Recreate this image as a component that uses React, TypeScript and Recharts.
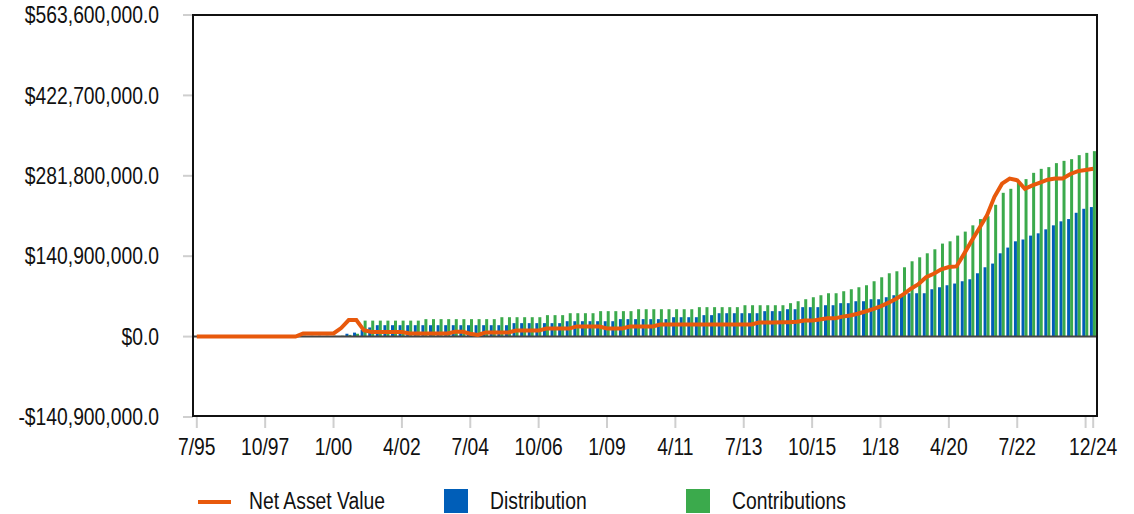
import React from 'react';
import {
  ComposedChart,
  Bar,
  Line,
  XAxis,
  YAxis,
  ReferenceLine,
} from 'recharts';

document.body.style.margin = '0';

// quarterly labels 7/95 ... 10/24, plus the final 12/24 point
const quarterMonths = [7, 10, 1, 4];
const categories: string[] = [];
for (let i = 0; i < 118; i++) {
  const yr = (95 + Math.floor((i + 2) / 4)) % 100;
  categories.push(`${quarterMonths[i % 4]}/${String(yr).padStart(2, '0')}`);
}
categories.push('12/24');

// values in $ millions
const netAssetValue = [
  0, 0, 0, 0, 0, 0, 0, 0, 0, 0, 0, 0, 0, 0,
  5.5, 5.5, 5.5, 5.5, 5.5, 15, 29, 29, 11,
  8, 8, 8, 8, 8, 5.5, 5.5, 5.5, 5.5, 5.5, 5.5,
  8.5, 8.5, 5, 3, 7, 7, 7, 7,
  10.5, 10.5, 10.5, 10.5, 14, 14, 14, 14,
  17.8, 17.8, 17.8, 17.8, 14.3, 14.3, 14.3,
  17.8, 17.8, 17.8, 17.8,
  21.3, 21.3, 21.3, 21.3, 21.3, 21.3, 21.3, 21.3, 21.3, 21.3, 21.3, 21.3, 21.3,
  24.8, 24.8, 24.8, 25, 25, 26,
  28, 28, 30, 32, 32, 35, 37, 40, 44, 48, 53, 59, 66, 74, 84, 92, 104, 110, 118, 122, 123,
  145, 168, 190, 212, 245, 268, 277, 274, 259, 265, 270, 275, 277, 277, 285, 290, 292, 294,
];

const distribution = [
  0, 0, 0, 0, 0, 0, 0, 0, 0, 0, 0, 0, 0, 0,
  1, 1, 1, 1, 1, 1, 5, 7, 12, 16,
  20, 20, 20, 20, 20, 20, 20, 20, 20, 20, 20, 20, 20, 20, 20, 20, 20, 20,
  23.6, 23.6, 23.6, 23.6, 23.6, 23.6, 23.6,
  27, 27, 27, 27, 27, 27, 27,
  30.6, 30.6, 30.6, 30.6, 30.6, 30.6, 30.6,
  34, 34, 34, 34, 37.6, 37.6,
  41, 41, 41, 41, 41, 41, 44.6, 44.6, 44.6, 48, 48,
  51.6, 51.6, 51.6, 55, 55, 58.6, 58.6, 62, 62, 65.5, 65.5, 69, 72.5, 72.5, 76, 76, 76,
  83, 86.5, 90, 93, 97, 100.5, 111, 121.5, 128, 146, 156, 167, 170, 177, 181, 188, 195, 202, 206, 217, 224, 227,
];

const contributions = [
  0, 0, 0, 0, 0, 0, 0, 0, 0, 0, 0, 0, 0, 0,
  1.5, 1.5, 1.5, 1.5, 1.5, 1.5, 3, 5,
  28, 28, 28, 28, 28, 28, 28, 28,
  30.6, 30.6, 30.6, 30.6, 30.6, 30.6, 30.6, 30.6, 30.6, 30.6,
  34, 34, 34, 34, 34, 34, 37.6, 37.6, 37.6,
  41, 41, 41, 41, 44.6, 44.6, 44.6, 44.6, 44.6,
  48, 48, 48, 48, 48, 48, 48, 48,
  51.6, 51.6, 51.6, 51.6, 51.6, 51.6, 55, 55, 55, 55, 55, 55,
  58.6, 62, 65.5, 69, 72.5, 76, 76, 79.5, 83, 86.5, 90, 97, 104, 111, 114.5, 121.5, 132, 139, 146, 153,
  163, 167, 177, 184, 195, 206, 211, 231, 252, 259, 270, 276, 287, 294, 297, 304, 308, 311, 318, 322, 325,
];

const xTicks = ['7/95', '10/97', '1/00', '4/02', '7/04', '10/06', '1/09', '4/11', '7/13', '10/15', '1/18', '4/20', '7/22', '10/24', '12/24'];
const hiddenTickLabels = ['10/24'];
const yTicks = [-140900000, 0, 140900000, 281800000, 422700000, 563600000];

const data = categories.map((name, i) => ({
  name,
  nav: netAssetValue[i] * 1e6,
  distribution: distribution[i] * 1e6,
  contributions: contributions[i] * 1e6,
}));

// no narrow font installed, so squeeze Liberation Sans horizontally
const FONT = "'Liberation Sans', Arial, sans-serif";
const FONT_SIZE = 23;
const SQUEEZE = 0.84;
const ORANGE = '#E8590C';
const BLUE = '#005EB8';
const GREEN = '#3BAA4C';

const money = (v: number) =>
  (v < 0 ? '-' : '') +
  '$' +
  Math.abs(v).toLocaleString('en-US', { minimumFractionDigits: 1, maximumFractionDigits: 1 });

function YTick({ x, y, payload }: any) {
  return (
    <g transform={`translate(${x},${y}) scale(${SQUEEZE},1)`}>
      <text x={0} y={0} dy="0.355em" textAnchor="end" fill="#111" fontSize={FONT_SIZE} fontFamily={FONT}>
        {money(payload.value)}
      </text>
    </g>
  );
}

function XTick({ x, y, payload }: any) {
  if (hiddenTickLabels.includes(payload.value)) return null;
  return (
    <g transform={`translate(${x},${y}) scale(${SQUEEZE},1)`}>
      <text x={0} y={0} dy="0.71em" textAnchor="middle" fill="#111" fontSize={FONT_SIZE} fontFamily={FONT}>
        {payload.value}
      </text>
    </g>
  );
}

const legendText: React.CSSProperties = {
  fontFamily: FONT,
  fontSize: FONT_SIZE,
  color: '#111',
  position: 'absolute',
  top: 488,
  lineHeight: '26px',
  whiteSpace: 'nowrap',
  transform: `scaleX(${SQUEEZE})`,
  transformOrigin: 'left center',
};

export default function App() {
  return (
    <div style={{ position: 'relative', width: 1134, height: 514, background: '#fff' }}>
      <ComposedChart
        width={1134}
        height={514}
        data={data}
        margin={{ top: 15, right: 37, left: 0, bottom: 47 }}
        barCategoryGap={0.5}
        barGap={0}
      >
        <XAxis
          dataKey="name"
          ticks={xTicks}
          interval={0}
          axisLine={false}
          tickLine={{ stroke: '#cfcfcf', strokeWidth: 2 }}
          tickSize={11}
          tickMargin={11}
          height={50}
          tick={<XTick />}
        />
        <YAxis
          domain={[-140900000, 563600000]}
          ticks={yTicks}
          width={193}
          axisLine={false}
          tickLine={{ stroke: '#cfcfcf', strokeWidth: 2 }}
          tickSize={10}
          tickMargin={24}
          tick={<YTick />}
        />
        <ReferenceLine y={0} stroke="#444" strokeWidth={2} />
        <Bar dataKey="distribution" fill={BLUE} isAnimationActive={false} />
        <Bar dataKey="contributions" fill={GREEN} isAnimationActive={false} />
        <Line
          dataKey="nav"
          type="linear"
          stroke={ORANGE}
          strokeWidth={4}
          dot={false}
          activeDot={false}
          isAnimationActive={false}
        />
      </ComposedChart>
      {/* plot frame */}
      <div
        style={{
          position: 'absolute',
          left: 192,
          top: 14,
          width: 906,
          height: 403,
          border: '2px solid #111',
          boxSizing: 'border-box',
          pointerEvents: 'none',
        }}
      />
      {/* legend */}
      <div style={{ position: 'absolute', left: 198, top: 500, width: 33, height: 4, background: ORANGE }} />
      <div style={{ ...legendText, left: 249 }}>Net Asset Value</div>
      <div style={{ position: 'absolute', left: 444, top: 489, width: 24, height: 24, background: BLUE }} />
      <div style={{ ...legendText, left: 490 }}>Distribution</div>
      <div style={{ position: 'absolute', left: 686, top: 489, width: 24, height: 24, background: GREEN }} />
      <div style={{ ...legendText, left: 732 }}>Contributions</div>
    </div>
  );
}
